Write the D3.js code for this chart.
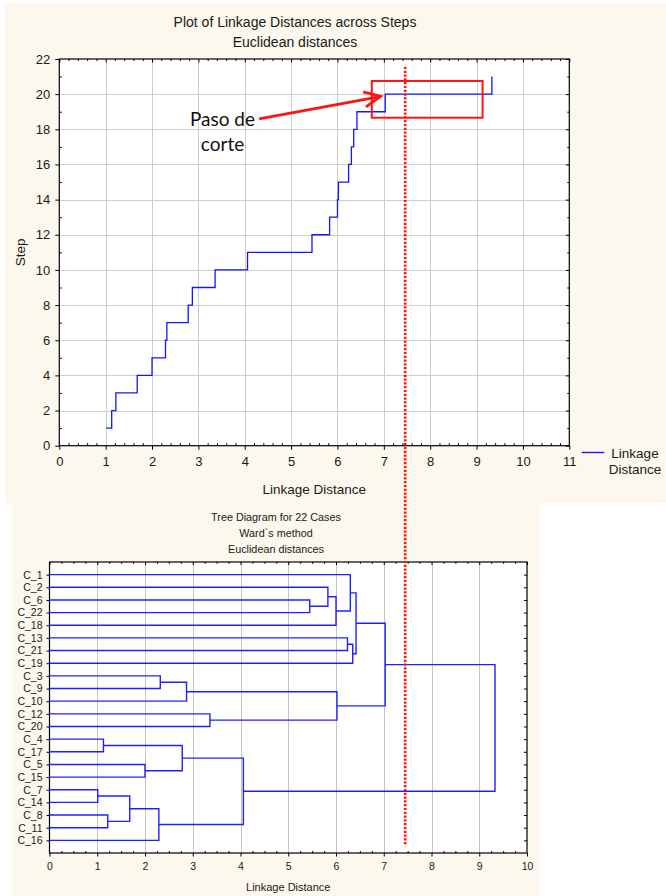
<!DOCTYPE html>
<html>
<head>
<meta charset="utf-8">
<script src="https://cdn.jsdelivr.net/npm/d3@7"></script>
<style>
  html, body { margin: 0; padding: 0; background: #ffffff; }
  svg { display: block; font-family: "Liberation Sans", Arial, sans-serif; }
</style>
</head>
<body>
<svg id="chart" width="666" height="896"></svg>
<script>
// ---- data -------------------------------------------------------------
// Agglomeration steps and the linkage distance at which each one happens
const steps = d3.range(1, 22);
const linkageDistances = [1.01, 1.13, 1.22, 1.68, 2.00, 2.29, 2.32, 2.78, 2.87, 3.36,
                          4.06, 5.45, 5.83, 6.00, 6.02, 6.24, 6.30, 6.35, 6.42, 7.03, 9.33];
// Pair joined at each step; "mK" is the cluster produced at step K
const merges = [
  ["C_7", "C_14"], ["C_4", "C_17"], ["C_8", "C_11"], ["m1", "m3"], ["C_5", "C_15"],
  ["m4", "C_16"], ["C_3", "C_9"], ["m2", "m5"], ["m7", "C_10"], ["C_12", "C_20"],
  ["m8", "m6"], ["C_6", "C_22"], ["C_2", "m12"], ["m13", "C_18"], ["m9", "m10"],
  ["C_13", "C_21"], ["C_1", "m14"], ["m16", "C_19"], ["m17", "m18"], ["m19", "m15"],
  ["m20", "m11"]
];
const stepTicksX = d3.range(0, 12);
const stepTicksY = d3.range(0, 23, 2);
const treeTicksX = d3.range(0, 11);
const cutDistance = 7.46;           // chosen cutting level
const cutBox = { x0: 6.74, x1: 9.13, y0: 18.66, y1: 20.75 };
const arrowFrom = { d: 4.31, s: 18.59 };
const arrowTo = { d: 6.93, s: 19.87 };

const topTitles = ["Plot of Linkage Distances across Steps", "Euclidean distances"];
const treeTitles = ["Tree Diagram for 22 Cases", "Ward`s method", "Euclidean distances"];
const noteLines = ["Paso de", "corte"];

// ---- setup ------------------------------------------------------------
const svg = d3.select("#chart");
const cream = "#fcf8ed";
const blue = "#1414ff";
const red = "#ff1414";
const gridColor = "#cdcdcd";

svg.append("rect").attr("x", 5).attr("y", 3).attr("width", 661).attr("height", 500).attr("fill", cream);
svg.append("rect").attr("x", 12).attr("y", 503).attr("width", 528).attr("height", 393).attr("fill", cream);

function styleAxis(g) {
  g.select(".domain").remove();
  g.selectAll(".tick line").attr("stroke", "#000");
  g.selectAll("text").attr("fill", "#1a1a1a");
}

// ================= Linkage distances across steps =================
const x1 = d3.scaleLinear().domain([0, 11]).range([59.3, 569.3]);
const y1 = d3.scaleLinear().domain([0, 22]).range([445.7, 59]);
const stepPanel = svg.append("g");

stepPanel.append("rect")
  .attr("x", x1(0)).attr("y", y1(22))
  .attr("width", x1(11) - x1(0)).attr("height", y1(0) - y1(22))
  .attr("fill", "#ffffff");

// grid
stepPanel.append("g").selectAll("line").data(stepTicksX.slice(1, -1)).join("line")
  .attr("x1", d => Math.round(x1(d)) + 0.5).attr("x2", d => Math.round(x1(d)) + 0.5)
  .attr("y1", y1(22)).attr("y2", y1(0))
  .attr("stroke", gridColor).attr("stroke-width", 1);
stepPanel.append("g").selectAll("line").data(stepTicksY.slice(1, -1)).join("line")
  .attr("y1", d => Math.round(y1(d)) + 0.5).attr("y2", d => Math.round(y1(d)) + 0.5)
  .attr("x1", x1(0)).attr("x2", x1(11))
  .attr("stroke", gridColor).attr("stroke-width", 1);

// axes
const minorX1 = d3.range(0, 11.001, 0.2).filter(v => Math.abs(v - Math.round(v)) > 1e-6);
const minorY1 = d3.range(1, 22, 2);

stepPanel.append("g").attr("transform", `translate(0,${y1(0)})`)
  .call(d3.axisBottom(x1).tickValues(stepTicksX).tickFormat(d3.format("d"))
    .tickSizeInner(4).tickSizeOuter(0).tickPadding(7))
  .call(styleAxis).selectAll("text").attr("font-size", 13);
stepPanel.append("g").attr("transform", `translate(0,${y1(0)})`)
  .call(d3.axisBottom(x1).tickValues(minorX1).tickFormat("").tickSizeInner(-2.5).tickSizeOuter(0))
  .call(styleAxis);
stepPanel.append("g").attr("transform", `translate(0,${y1(22)})`)
  .call(d3.axisTop(x1).tickValues(stepTicksX).tickFormat("").tickSizeInner(-3.5).tickSizeOuter(0))
  .call(styleAxis);
stepPanel.append("g").attr("transform", `translate(0,${y1(22)})`)
  .call(d3.axisTop(x1).tickValues(minorX1).tickFormat("").tickSizeInner(-2).tickSizeOuter(0))
  .call(styleAxis);

stepPanel.append("g").attr("transform", `translate(${x1(0)},0)`)
  .call(d3.axisLeft(y1).tickValues(stepTicksY).tickFormat(d3.format("d"))
    .tickSizeInner(4).tickSizeOuter(0).tickPadding(5))
  .call(styleAxis).selectAll("text").attr("font-size", 13);
stepPanel.append("g").attr("transform", `translate(${x1(0)},0)`)
  .call(d3.axisLeft(y1).tickValues(minorY1).tickFormat("").tickSizeInner(-2.5).tickSizeOuter(0))
  .call(styleAxis);
stepPanel.append("g").attr("transform", `translate(${x1(11)},0)`)
  .call(d3.axisRight(y1).tickValues(stepTicksY).tickFormat("").tickSizeInner(-3.5).tickSizeOuter(0))
  .call(styleAxis);
stepPanel.append("g").attr("transform", `translate(${x1(11)},0)`)
  .call(d3.axisRight(y1).tickValues(minorY1).tickFormat("").tickSizeInner(-2).tickSizeOuter(0))
  .call(styleAxis);

stepPanel.append("rect")
  .attr("x", x1(0)).attr("y", y1(22))
  .attr("width", x1(11) - x1(0)).attr("height", y1(0) - y1(22))
  .attr("fill", "none").attr("stroke", "#000").attr("stroke-width", 1.2);

// step line
const stepPoints = steps.map((s, i) => ({ s, d: linkageDistances[i] }));
stepPanel.append("path").datum(stepPoints)
  .attr("fill", "none").attr("stroke", blue).attr("stroke-width", 1.3)
  .attr("d", d3.line().x(p => x1(p.d)).y(p => y1(p.s)).curve(d3.curveStepAfter));

// titles and axis labels
stepPanel.selectAll("text.title").data(topTitles).join("text").attr("class", "title")
  .attr("x", 295).attr("y", (d, i) => 26.5 + i * 20.5)
  .attr("text-anchor", "middle").attr("font-size", 14).attr("fill", "#1a1a1a").text(d => d);
stepPanel.append("text").attr("x", (x1(0) + x1(11)) / 2).attr("y", 494)
  .attr("text-anchor", "middle").attr("font-size", 13.5).attr("fill", "#1a1a1a").text("Linkage Distance");
stepPanel.append("text").attr("transform", `translate(25,${(y1(0) + y1(22)) / 2}) rotate(-90)`)
  .attr("text-anchor", "middle").attr("font-size", 13.5).attr("fill", "#1a1a1a").text("Step");

// legend
const legend = stepPanel.append("g");
legend.append("line").attr("x1", 581.7).attr("x2", 604.3).attr("y1", 452.5).attr("y2", 452.5)
  .attr("stroke", blue).attr("stroke-width", 1.4);
legend.selectAll("text").data(["Linkage", "Distance"]).join("text")
  .attr("x", 635).attr("y", (d, i) => 457.5 + i * 16.5)
  .attr("text-anchor", "middle").attr("font-size", 13.5).attr("fill", "#1a1a1a").text(d => d);

// cut annotation: box, arrow and note
stepPanel.append("rect")
  .attr("x", x1(cutBox.x0)).attr("y", y1(cutBox.y1))
  .attr("width", x1(cutBox.x1) - x1(cutBox.x0)).attr("height", y1(cutBox.y0) - y1(cutBox.y1))
  .attr("fill", "none").attr("stroke", red).attr("stroke-width", 2);

const ax0 = x1(arrowFrom.d), ay0 = y1(arrowFrom.s);
const ax1 = x1(arrowTo.d), ay1 = y1(arrowTo.s);
const ang = Math.atan2(ay1 - ay0, ax1 - ax0);
const headLen = 18, headSpread = 25 * Math.PI / 180;
const headPath = d3.path();
headPath.moveTo(ax1 - headLen * Math.cos(ang - headSpread), ay1 - headLen * Math.sin(ang - headSpread));
headPath.lineTo(ax1, ay1);
headPath.lineTo(ax1 - headLen * Math.cos(ang + headSpread), ay1 - headLen * Math.sin(ang + headSpread));
stepPanel.append("line").attr("x1", ax0).attr("y1", ay0).attr("x2", ax1 - 2 * Math.cos(ang)).attr("y2", ay1 - 2 * Math.sin(ang))
  .attr("stroke", red).attr("stroke-width", 2.8);
stepPanel.append("path").attr("d", headPath.toString())
  .attr("fill", "none").attr("stroke", red).attr("stroke-width", 2.8)
  .attr("stroke-linejoin", "miter");

stepPanel.selectAll("text.note").data(noteLines).join("text").attr("class", "note")
  .attr("x", 222.5).attr("y", (d, i) => 126 + i * 24.5)
  .attr("text-anchor", "middle").attr("font-family", "Lato, 'Open Sans', sans-serif")
  .attr("font-size", 19).attr("fill", "#111").text(d => d);

// ================= Tree diagram =================
const x2 = d3.scaleLinear().domain([0, 10]).range([49.5, 527]);
const y2 = d3.scaleLinear().domain([0, 23]).range([562, 853]);
const treePanel = svg.append("g");

function buildNode(name) {
  if (name[0] === "m") {
    const k = +name.slice(1);
    const pair = merges[k - 1];
    return { name, h: linkageDistances[k - 1], children: pair.map(buildNode) };
  }
  return { name, h: 0 };
}
const root = d3.hierarchy(buildNode("m" + merges.length));
const leaves = root.leaves();
leaves.forEach((l, i) => { l.pos = i + 1; });
root.eachAfter(n => { if (n.children) n.pos = (n.children[0].pos + n.children[1].pos) / 2; });
const leafNames = leaves.map(l => l.data.name);

treePanel.append("rect")
  .attr("x", x2(0)).attr("y", y2(0))
  .attr("width", x2(10) - x2(0)).attr("height", y2(23) - y2(0))
  .attr("fill", "#ffffff");

treePanel.append("g").selectAll("line").data(treeTicksX.slice(1, -1)).join("line")
  .attr("x1", d => Math.round(x2(d)) + 0.5).attr("x2", d => Math.round(x2(d)) + 0.5)
  .attr("y1", y2(0)).attr("y2", y2(23))
  .attr("stroke", "#c4c4c4").attr("stroke-width", 1);

const minorX2 = d3.range(0, 10.001, 0.25).filter(v => Math.abs(v - Math.round(v)) > 1e-6);
const rowTicks = d3.range(1, leafNames.length + 1);

treePanel.append("g").attr("transform", `translate(0,${y2(23)})`)
  .call(d3.axisBottom(x2).tickValues(treeTicksX).tickFormat(d3.format("d"))
    .tickSizeInner(3.5).tickSizeOuter(0).tickPadding(6))
  .call(styleAxis).selectAll("text").attr("font-size", 10.5);
treePanel.append("g").attr("transform", `translate(0,${y2(23)})`)
  .call(d3.axisBottom(x2).tickValues(minorX2).tickFormat("").tickSizeInner(-2).tickSizeOuter(0))
  .call(styleAxis);
treePanel.append("g").attr("transform", `translate(0,${y2(0)})`)
  .call(d3.axisTop(x2).tickValues(treeTicksX).tickFormat("").tickSizeInner(-3).tickSizeOuter(0))
  .call(styleAxis);
treePanel.append("g").attr("transform", `translate(0,${y2(0)})`)
  .call(d3.axisTop(x2).tickValues(minorX2).tickFormat("").tickSizeInner(-1.8).tickSizeOuter(0))
  .call(styleAxis);
treePanel.append("g").attr("transform", `translate(${x2(0)},0)`)
  .call(d3.axisLeft(y2).tickValues(rowTicks).tickFormat(i => leafNames[i - 1])
    .tickSizeInner(3).tickSizeOuter(0).tickPadding(4))
  .call(styleAxis).selectAll("text").attr("font-size", 10.5);
treePanel.append("g").attr("transform", `translate(${x2(10)},0)`)
  .call(d3.axisRight(y2).tickValues(rowTicks).tickFormat("").tickSizeInner(-3).tickSizeOuter(0))
  .call(styleAxis);

treePanel.append("rect")
  .attr("x", x2(0)).attr("y", y2(0))
  .attr("width", x2(10) - x2(0)).attr("height", y2(23) - y2(0))
  .attr("fill", "none").attr("stroke", "#000").attr("stroke-width", 1.2);

// elbow links of the dendrogram
const joins = root.descendants().filter(n => n.children);
treePanel.append("g").selectAll("path").data(joins).join("path")
  .attr("fill", "none").attr("stroke", "#2020ff").attr("stroke-width", 1.4)
  .attr("d", n => {
    const [a, b] = n.children;
    const p = d3.path();
    p.moveTo(x2(a.data.h), y2(a.pos));
    p.lineTo(x2(n.data.h), y2(a.pos));
    p.lineTo(x2(n.data.h), y2(b.pos));
    p.lineTo(x2(b.data.h), y2(b.pos));
    return p.toString();
  });

treePanel.selectAll("text.title").data(treeTitles).join("text").attr("class", "title")
  .attr("x", 276).attr("y", (d, i) => 520.5 + i * 16.2)
  .attr("text-anchor", "middle").attr("font-size", 10.8).attr("fill", "#1a1a1a").text(d => d);
treePanel.append("text").attr("x", (x2(0) + x2(10)) / 2).attr("y", 891)
  .attr("text-anchor", "middle").attr("font-size", 11).attr("fill", "#1a1a1a").text("Linkage Distance");

// ================= cut level across both panels =================
svg.append("line")
  .attr("x1", x1(cutDistance)).attr("x2", x1(cutDistance))
  .attr("y1", y1(21.55)).attr("y2", y2(22.37))
  .attr("stroke", red).attr("stroke-width", 2.6).attr("stroke-dasharray", "2.2,1.6");
</script>
</body>
</html>
